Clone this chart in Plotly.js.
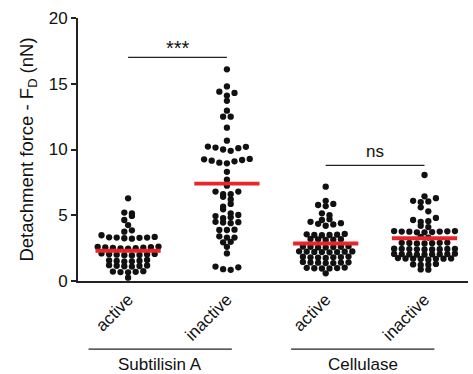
<!DOCTYPE html>
<html><head><meta charset="utf-8">
<script src="https://cdn.plot.ly/plotly-3.0.1.min.js"></script>
<style>html,body{margin:0;padding:0;background:#fff}#chart{width:473px;height:374px}</style>
</head><body><div id="chart"></div>
<script>
// ---- data ----
const categories = ['active', 'inactive', 'active', 'inactive'];
const groupNames = ['Subtilisin A', 'Cellulase'];
const subtilisinActive = [0.25,
  0.66, 0.68, 0.7, 0.72, 0.75,
  1.1, 1.12, 1.14, 1.16, 1.18, 1.2,
  1.48, 1.5, 1.52, 1.54, 1.56, 1.6,
  1.94, 1.96, 1.98, 2.0, 2.02, 2.04, 2.06, 2.1,
  2.46, 2.48, 2.5, 2.52, 2.54, 2.56, 2.58, 2.6, 2.62,
  3.22, 3.25, 3.28, 3.3, 3.3, 3.32, 3.35, 3.48,
  3.75, 3.85, 4.25, 4.64, 4.95, 5.15, 5.2, 6.29];
const subtilisinInactive = [0.85, 0.9, 1.04, 1.1,
  2.1, 2.6, 2.94, 2.98,
  3.3, 3.3, 3.4, 3.88, 3.88, 3.9,
  4.4, 4.45, 4.47, 4.5,
  4.77, 4.84, 4.94, 5.02,
  5.15, 5.45, 5.65, 5.86,
  6.2, 6.4, 6.6, 6.6, 6.8, 6.8,
  7.25, 7.7, 8.3,
  8.95, 9.0, 9.1, 9.15, 9.2, 9.25, 9.28,
  9.9, 10.0, 10.1, 10.15, 10.2, 10.22,
  10.67, 11.66, 12.5, 12.5, 12.95, 13.7,
  14.1, 14.3, 14.4, 14.8, 16.1];
const cellulaseActive = [0.58,
  0.95, 0.96, 0.97, 0.98, 1.0, 1.02,
  1.36, 1.36, 1.39, 1.4, 1.41, 1.42, 1.45,
  1.75, 1.78, 1.8, 1.8, 1.82, 1.85, 1.86,
  2.18, 2.2, 2.2, 2.21, 2.23, 2.24, 2.25, 2.26,
  2.55, 2.55, 2.58, 2.6, 2.6, 2.62, 2.65,
  3.12, 3.15, 3.17, 3.18, 3.2,
  3.48, 3.5, 3.5, 3.52, 3.55, 3.58,
  4.2, 4.3, 4.35, 4.4, 4.5,
  4.64, 4.7, 5.0, 5.15,
  5.7, 5.78, 5.86, 6.1, 7.17];
const cellulaseInactive = [0.86, 0.88,
  1.22, 1.24, 1.26, 1.3,
  1.62, 1.68, 1.69, 1.7, 1.7, 1.71, 1.72, 1.74,
  2.0, 2.0, 2.02, 2.03, 2.04, 2.05, 2.05, 2.06, 2.08,
  2.4, 2.4, 2.41, 2.42, 2.43, 2.44, 2.45, 2.45, 2.46,
  2.85, 2.86, 2.88, 2.89, 2.9, 2.9, 2.92,
  3.3, 3.35,
  3.7, 3.7, 3.72, 3.75, 3.76, 3.76, 3.78, 3.8, 3.8,
  4.1, 4.2, 4.5, 4.55, 4.64, 4.8,
  5.3, 5.6, 6.0, 6.05, 6.1, 6.3, 6.44, 8.06];
const medians = [2.3, 7.4, 2.85, 3.25];
const sigPairs = [[0, 1], [2, 3]];
const sigY = [17, 8.8];
const sigLabels = ['***', 'ns'];
const yTicks = [0, 5, 10, 15, 20];
const yTitle = 'Detachment force - F<sub>D</sub> (nN)';

// ---- layout geometry ----
const W = 473, H = 374, M = {l: 78, r: 5, t: 18, b: 93};
const xRange = [-0.507, 3.44], yRange = [0, 20];
const pxX = (W - M.l - M.r) / (xRange[1] - xRange[0]);

// column-scatter layout (Prism style): values within TH of a row's first value share a row,
// spread SX px apart, lowest values in the middle
function columnScatter(vals, SX, TH) {
  const s = vals.slice().sort((a, b) => a - b);
  const rows = [];
  s.forEach(v => {
    const r = rows[rows.length - 1];
    if (r && v - r[0] < TH - 1e-9) r.push(v); else rows.push([v]);
  });
  const out = [];
  rows.forEach((r, ri) => {
    const n = r.length, pos = [];
    for (let j = 0; j < n; j++) pos.push((j - (n - 1) / 2) * SX);
    const sgn = ri % 2 ? 1 : -1;
    pos.sort((a, b) => (Math.abs(a) - Math.abs(b)) || sgn * (a - b));
    r.forEach((v, k) => out.push({x: pos[k], v}));
  });
  return out;
}

const series = [subtilisinActive, subtilisinInactive, cellulaseActive, cellulaseInactive];
const traces = [];
series.forEach((vals, i) => {
  const pts = columnScatter(vals, 7.6, 0.34);
  traces.push({
    type: 'scatter', mode: 'markers',
    x: pts.map(p => i + p.x / pxX), y: pts.map(p => p.v),
    marker: {size: 6.3, color: '#111111'}, hoverinfo: 'y', showlegend: false
  });
});
medians.forEach((m, i) => {
  traces.push({
    type: 'scatter', mode: 'lines',
    x: [i - 0.33, i + 0.33], y: [m, m],
    line: {color: '#e8262a', width: 3.8}, hoverinfo: 'skip', showlegend: false
  });
});

const shapes = [], annotations = [];
sigPairs.forEach((pr, k) => {
  shapes.push({type: 'line', xref: 'x', yref: 'y', x0: pr[0], x1: pr[1], y0: sigY[k], y1: sigY[k],
    line: {color: '#222', width: 1.2}});
  annotations.push({xref: 'x', yref: 'y', x: (pr[0] + pr[1]) / 2, y: sigY[k], yanchor: 'bottom',
    yshift: k === 0 ? -4 : 2, text: sigLabels[k], showarrow: false,
    font: {family: 'Liberation Sans, Arial, sans-serif', size: k === 0 ? 20 : 17, color: '#111'}});
});
const groupSpans = [[-0.40, 1.05], [1.65, 3.10]];
groupSpans.forEach((s, k) => {
  shapes.push({type: 'line', xref: 'x', yref: 'paper', x0: s[0], x1: s[1], y0: -0.259, y1: -0.259,
    line: {color: '#222', width: 1.2}});
  annotations.push({xref: 'x', yref: 'paper', x: (s[0] + s[1]) / 2, y: -0.319, yanchor: 'middle',
    text: groupNames[k], showarrow: false,
    font: {family: 'Liberation Sans, Arial, sans-serif', size: 17, color: '#111'}});
});

const layout = {
  width: W, height: H, margin: M, paper_bgcolor: '#fff', plot_bgcolor: '#fff',
  font: {family: 'Liberation Sans, Arial, sans-serif', color: '#111'},
  xaxis: {range: xRange, tickvals: [0, 1, 2, 3], ticktext: categories, tickangle: -45,
    showline: true, linewidth: 2, linecolor: '#222', showgrid: false, zeroline: false,
    ticks: '', tickfont: {size: 17}},
  yaxis: {range: yRange, tickvals: yTicks, showline: true, linewidth: 2, linecolor: '#222',
    showgrid: false, zeroline: false, ticks: 'outside', ticklen: 5, tickwidth: 2, tickcolor: '#222',
    tickfont: {size: 17}, title: {text: yTitle, font: {size: 18.5}, standoff: 10}},
  shapes, annotations
};
Plotly.newPlot('chart', traces, layout, {displayModeBar: false, staticPlot: true});
</script></body></html>
